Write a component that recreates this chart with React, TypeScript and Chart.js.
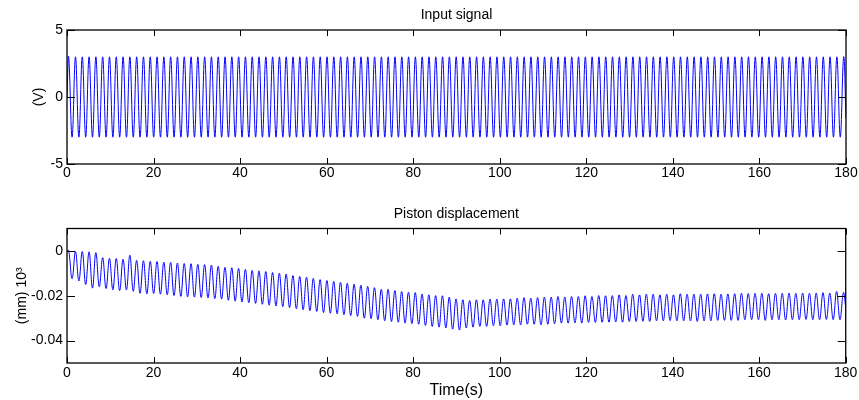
import React, { useEffect, useRef } from "react";
import { Chart, registerables } from "chart.js";

Chart.register(...registerables);

// ---- time grid (one extremum every half cycle) ----
const T_END = 180;
const HALF_CYCLE_S = 0.7854;
const FIRST_PEAK_S = 0.39;

// ---- tick labels ----
const xTicks = [0, 20, 40, 60, 80, 100, 120, 140, 160, 180];
const inputYTicks = [-5, 0, 5];
const pistonYTicks = [-0.04, -0.02, 0];

// ---- input signal (V): every crest reads +3, every trough -3 ----
const inputPeakV = 3;
const inputTroughV = -3;
const inputStartV = 0;
const inputEndV = -1.6;

// ---- piston displacement (mm x10^3): crest and trough of each cycle ----
const pistonPeaks = [
  0.0002, -0.0003, -0.0003, -0.0004, -0.0008, -0.003, -0.0033, -0.0034, -0.0037, -0.0019,
  -0.0042, -0.0044, -0.0046, -0.0047, -0.005, -0.0051, -0.0054, -0.0056, -0.0057, -0.006,
  -0.0061, -0.0063, -0.0068, -0.0073, -0.0075, -0.0078, -0.0082, -0.0087, -0.0089, -0.0092,
  -0.0096, -0.01, -0.0103, -0.011, -0.0114, -0.0117, -0.0122, -0.0128, -0.0132, -0.0136,
  -0.014, -0.0144, -0.0148, -0.0153, -0.0158, -0.0164, -0.0171, -0.0171, -0.0177, -0.0181,
  -0.0184, -0.0186, -0.0192, -0.0196, -0.0199, -0.02, -0.0206, -0.0214, -0.0218, -0.0221,
  -0.0218, -0.0218, -0.0215, -0.0215, -0.0214, -0.0214, -0.0211, -0.0208, -0.0211, -0.0208,
  -0.0206, -0.0206, -0.0203, -0.0206, -0.0203, -0.0203, -0.02, -0.0203, -0.0199, -0.02,
  -0.0199, -0.0196, -0.0199, -0.0193, -0.0196, -0.0193, -0.0193, -0.0196, -0.0193, -0.0196,
  -0.0191, -0.0193, -0.0193, -0.0193, -0.0192, -0.0191, -0.0193, -0.0192, -0.0191, -0.0189,
  -0.019, -0.0189, -0.0189, -0.0191, -0.0189, -0.0189, -0.0188, -0.0189, -0.0188, -0.0189,
  -0.0188, -0.0186, -0.0188, -0.0181, -0.0186,
];
const pistonTroughs = [
  -0.0124, -0.0134, -0.015, -0.0166, -0.016, -0.0168, -0.0174, -0.0177, -0.0174, -0.018,
  -0.0189, -0.0192, -0.019, -0.0193, -0.0196, -0.0199, -0.0203, -0.0205, -0.0206, -0.0208,
  -0.021, -0.0213, -0.0215, -0.022, -0.0224, -0.0228, -0.0231, -0.0234, -0.0238, -0.0242,
  -0.0246, -0.0249, -0.0253, -0.0258, -0.0263, -0.0267, -0.027, -0.0275, -0.0278, -0.0281,
  -0.0285, -0.0289, -0.0292, -0.03, -0.0303, -0.0307, -0.0312, -0.0315, -0.0318, -0.0322,
  -0.0325, -0.0327, -0.0333, -0.0337, -0.034, -0.0344, -0.0349, -0.0353, -0.0344, -0.034,
  -0.0337, -0.0337, -0.0334, -0.0334, -0.0331, -0.033, -0.033, -0.0327, -0.0327, -0.033,
  -0.0327, -0.0325, -0.0322, -0.0322, -0.0321, -0.0322, -0.0319, -0.0319, -0.0318, -0.0318,
  -0.0317, -0.0318, -0.0315, -0.0315, -0.0314, -0.0315, -0.0312, -0.0312, -0.0311, -0.0312,
  -0.0312, -0.0312, -0.0315, -0.0312, -0.0312, -0.031, -0.031, -0.031, -0.031, -0.0307,
  -0.0307, -0.0307, -0.031, -0.0307, -0.0307, -0.0308, -0.0307, -0.0307, -0.0306, -0.0307,
  -0.0307, -0.0306, -0.0307, -0.0307,
];
const pistonStart = 0;
const pistonEnd = -0.025;

type Pt = { x: number; y: number };

function buildSeries(
  nPeaks: number,
  nTroughs: number,
  peakAt: (k: number) => number,
  troughAt: (k: number) => number,
  start: number,
  end: number
): Pt[] {
  const pts: Pt[] = [{ x: 0, y: start }];
  for (let k = 0; k < nPeaks; k++) {
    pts.push({ x: FIRST_PEAK_S + 2 * k * HALF_CYCLE_S, y: peakAt(k) });
    if (k < nTroughs) pts.push({ x: FIRST_PEAK_S + (2 * k + 1) * HALF_CYCLE_S, y: troughAt(k) });
  }
  pts.push({ x: T_END, y: end });
  return pts;
}

const inputSeries = buildSeries(
  pistonPeaks.length,
  pistonTroughs.length,
  () => inputPeakV,
  () => inputTroughV,
  inputStartV,
  inputEndV
);
const pistonSeries = buildSeries(
  pistonPeaks.length,
  pistonTroughs.length,
  (k) => pistonPeaks[k],
  (k) => pistonTroughs[k],
  pistonStart,
  pistonEnd
);

const FONT = '"Liberation Sans", Arial, Helvetica, sans-serif';

const boxPlugin = {
  id: "matlabBox",
  afterDatasetsDraw(chart: any) {
    const { ctx, chartArea } = chart;
    const { left, right, top, bottom } = chartArea;
    const xs = chart.scales.x;
    const ys = chart.scales.y;
    ctx.save();
    ctx.strokeStyle = "#000";
    ctx.lineWidth = 1.3;
    ctx.strokeRect(left, top, right - left, bottom - top);
    ctx.lineWidth = 1;
    ctx.beginPath();
    for (const t of xs.ticks) {
      const px = Math.round(xs.getPixelForValue(t.value)) + 0.5;
      ctx.moveTo(px, bottom);
      ctx.lineTo(px, bottom - 6);
      ctx.moveTo(px, top);
      ctx.lineTo(px, top + 6);
    }
    for (const t of ys.ticks) {
      const py = Math.round(ys.getPixelForValue(t.value)) + 0.5;
      ctx.moveTo(left, py);
      ctx.lineTo(left + 8, py);
      ctx.moveTo(right, py);
      ctx.lineTo(right - 8, py);
    }
    ctx.stroke();
    ctx.restore();
  },
};

interface PanelOpts {
  data: Pt[];
  yMin: number;
  yMax: number;
  yTicks: number[];
  title: string;
  titlePad: { top: number; bottom: number };
  yTitle: string;
  yTitlePad: number;
  xTitle?: string;
  xHeight: number;
  xTickPad: number;
}

function makeConfig(o: PanelOpts): any {
  return {
    type: "line",
    data: {
      datasets: [
        {
          data: o.data,
          borderColor: "#0000ff",
          borderWidth: 1,
          pointRadius: 0,
          tension: 0.4,
          fill: false,
        },
      ],
    },
    options: {
      animation: false,
      responsive: false,
      events: [],
      parsing: false,
      layout: { padding: { left: 0, right: 13, top: 0, bottom: 0 } },
      plugins: {
        legend: { display: false },
        tooltip: { enabled: false },
        title: {
          display: true,
          fullSize: false,
          text: o.title,
          color: "#000",
          font: { family: FONT, size: 14, weight: "normal" },
          padding: o.titlePad,
        },
      },
      scales: {
        x: {
          type: "linear",
          min: 0,
          max: T_END,
          grid: { display: false, drawTicks: false },
          border: { display: false },
          afterBuildTicks: (s: any) => {
            s.ticks = xTicks.map((v) => ({ value: v }));
          },
          afterFit: (s: any) => {
            s.height = o.xHeight;
          },
          ticks: {
            color: "#000",
            padding: o.xTickPad,
            maxRotation: 0,
            autoSkip: false,
            font: { family: FONT, size: 14 },
            callback: (v: number) => String(v),
          },
          title: o.xTitle
            ? {
                display: true,
                text: o.xTitle,
                color: "#000",
                font: { family: FONT, size: 16 },
                padding: { top: 0, bottom: 0 },
              }
            : { display: false },
        },
        y: {
          type: "linear",
          min: o.yMin,
          max: o.yMax,
          grid: { display: false, drawTicks: false },
          border: { display: false },
          afterBuildTicks: (s: any) => {
            s.ticks = o.yTicks.map((v) => ({ value: v }));
          },
          afterFit: (s: any) => {
            s.width = 67;
          },
          ticks: {
            color: "#000",
            padding: 4,
            autoSkip: false,
            font: { family: FONT, size: 14 },
            callback: (v: number) => String(v),
          },
          title: {
            display: true,
            text: o.yTitle,
            color: "#000",
            font: { family: FONT, size: 14 },
            padding: { top: o.yTitlePad, bottom: 0 },
          },
        },
      },
    },
    plugins: [boxPlugin],
  };
}

export default function App() {
  const topRef = useRef<HTMLCanvasElement>(null);
  const botRef = useRef<HTMLCanvasElement>(null);

  useEffect(() => {
    const top = new Chart(
      topRef.current as HTMLCanvasElement,
      makeConfig({
        data: inputSeries,
        yMin: -5,
        yMax: 5,
        yTicks: inputYTicks,
        title: "Input signal",
        titlePad: { top: 6.6, bottom: 6.6 },
        yTitle: "(V)",
        yTitlePad: 30.6,
        xHeight: 36,
        xTickPad: 0.6,
      })
    );
    const bot = new Chart(
      botRef.current as HTMLCanvasElement,
      makeConfig({
        data: pistonSeries,
        yMin: -0.05,
        yMax: 0.01,
        yTicks: pistonYTicks,
        title: "Piston displacement",
        titlePad: { top: 5.6, bottom: 6.1 },
        yTitle: "(mm) 10³",
        yTitlePad: 13.6,
        xTitle: "Time(s)",
        xHeight: 37,
        xTickPad: 1.6,
      })
    );
    return () => {
      top.destroy();
      bot.destroy();
    };
  }, []);

  return (
    <div
      style={{
        position: "absolute",
        left: 0,
        top: 0,
        width: 859,
        height: 400,
        background: "#fff",
      }}
    >
      <canvas ref={topRef} width={859} height={200} style={{ display: "block" }} />
      <canvas ref={botRef} width={859} height={200} style={{ display: "block" }} />
    </div>
  );
}
